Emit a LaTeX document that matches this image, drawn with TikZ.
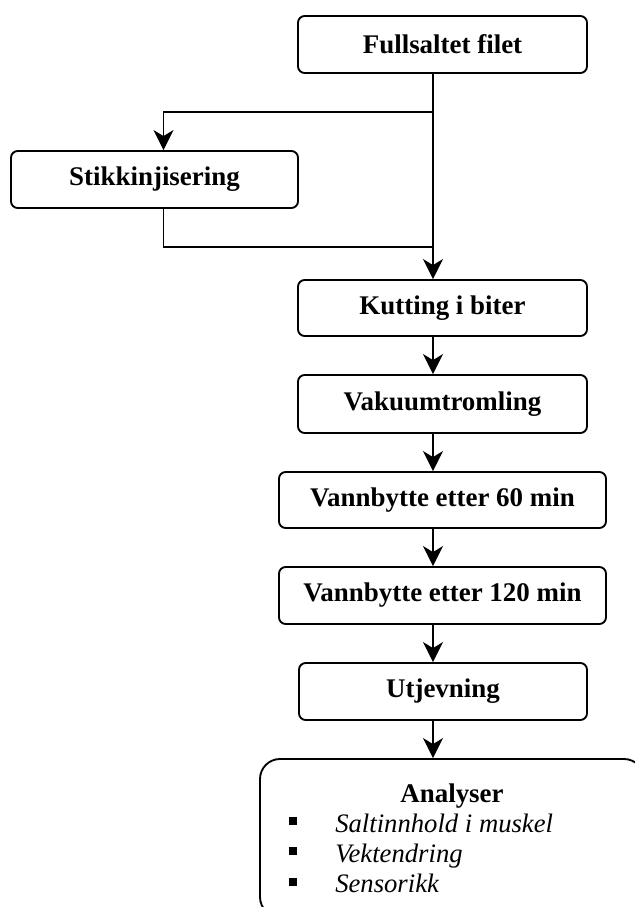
\documentclass[tikz,border=0pt]{standalone}
\usepackage{fontspec}
\setmainfont{Liberation Serif}
\usetikzlibrary{arrows.meta}
\begin{document}
\begin{tikzpicture}[x=0.75pt,y=-0.75pt,
  box/.style={draw, line width=1.4pt, rounded corners=5pt, inner sep=0pt,
    font=\fontsize{20.2}{24}\selectfont\bfseries, align=center},
  conn/.style={line width=1.2pt},
  arr/.style={conn, -{Stealth[length=15pt,width=15pt,inset=4.5pt]}},
  itemtxt/.style={anchor=base west, inner sep=0pt, font=\fontsize{20}{24}\selectfont\itshape},
  bul/.style={fill=black, inner sep=0pt, minimum size=6pt}]
\clip (0,0) rectangle (635,907);
\fill[white] (0,0) rectangle (635,907);
% boxes
\node[box, minimum width=216.75pt, minimum height=42.75pt] (top) at (442.5,44.5) {Fullsaltet filet};
\node[box, minimum width=215.25pt, minimum height=42.75pt] (stik) at (154.5,179.5) {Stikkinjisering};
\node[box, minimum width=216.75pt, minimum height=42pt] (kut) at (442.5,308) {Kutting i biter};
\node[box, minimum width=216.75pt, minimum height=43.5pt] (vak) at (442.5,404) {Vakuumtromling};
\node[box, minimum width=245.25pt, minimum height=42pt] (v60) at (442.5,500) {Vannbytte etter 60 min};
\node[box, minimum width=245.25pt, minimum height=42.75pt] (v120) at (442.5,595.5) {Vannbytte etter 120 min};
\node[box, minimum width=216pt, minimum height=42.75pt] (utj) at (443,691.5) {Utjevning};
\node[box, rounded corners=15pt, minimum width=288pt, minimum height=118.5pt] (ana) at (452,838) {};
% analyser contents
\node[anchor=base, inner sep=0pt, font=\fontsize{20.2}{24}\selectfont\bfseries] (anat) at (452,802) {Analyser};
\node[bul] (b1) at (293,821) {};
\node[bul] (b2) at (293,851) {};
\node[bul] (b3) at (293,882) {};
\node[itemtxt] (i1) at (335,832) {Saltinnhold i muskel};
\node[itemtxt] (i2) at (335,862) {Vektendring};
\node[itemtxt] (i3) at (335,892) {Sensorikk};
% connectors
\coordinate (j1) at (433,112);
\coordinate (j2) at (433,247);
\coordinate (s1) at (163.5,112);
\coordinate (s2) at (163.5,247);
\draw[arr] (top.south -| j1) -- (kut.north -| j1);
\draw[arr] (j1) -- (s1) -- (s1 |- stik.north);
\draw[conn] (s1 |- stik.south) -- (s2) -- (j2);
\draw[arr] (kut.south -| j1) -- (vak.north -| j1);
\draw[arr] (vak.south -| j1) -- (v60.north -| j1);
\draw[arr] (v60.south -| j1) -- (v120.north -| j1);
\draw[arr] (v120.south -| j1) -- (utj.north -| j1);
\draw[arr] (utj.south -| j1) -- (ana.north -| j1);
\end{tikzpicture}
\end{document}
